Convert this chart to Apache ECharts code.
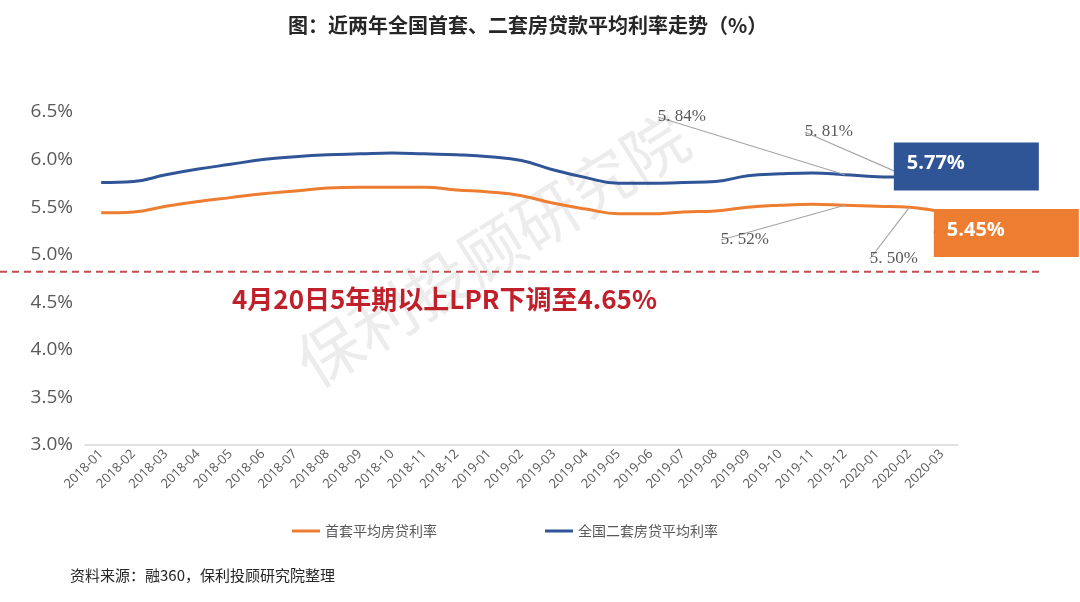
<!DOCTYPE html>
<html>
<head>
<meta charset="utf-8">
<script src="https://cdn.jsdelivr.net/npm/echarts@6/dist/echarts.min.js"></script>
<style>
  html, body { margin: 0; padding: 0; background: #fff; }
  #main { width: 1080px; height: 602px; }
</style>
</head>
<body>
<div id="main"></div>
<script>
// months on the x axis
const months = [
  "2018-01", "2018-02", "2018-03", "2018-04", "2018-05", "2018-06", "2018-07",
  "2018-08", "2018-09", "2018-10", "2018-11", "2018-12", "2019-01", "2019-02",
  "2019-03", "2019-04", "2019-05", "2019-06", "2019-07", "2019-08", "2019-09",
  "2019-10", "2019-11", "2019-12", "2020-01", "2020-02", "2020-03"
];
// 首套平均房贷利率 (%)
const firstRate = [
  5.44, 5.45, 5.51, 5.56, 5.60, 5.64, 5.67, 5.70, 5.71, 5.71, 5.71, 5.68, 5.66, 5.62,
  5.54, 5.48, 5.43, 5.43, 5.45, 5.46, 5.50, 5.52, 5.53, 5.52, 5.51, 5.50, 5.45
];
// 全国二套房贷平均利率 (%)
const secondRate = [
  5.76, 5.77, 5.84, 5.90, 5.95, 6.00, 6.03, 6.05, 6.06, 6.07, 6.06, 6.05, 6.03, 5.99,
  5.89, 5.81, 5.75, 5.75, 5.76, 5.77, 5.83, 5.85, 5.86, 5.84, 5.82, 5.81, 5.77
];
const yTicks = [3.0, 3.5, 4.0, 4.5, 5.0, 5.5, 6.0, 6.5];
// points that carry a small callout label
const firstCallouts = ["2019-12", "2020-02"];
const secondCallouts = ["2019-12", "2020-02"];
const dashLevel = 4.82;
const lprNote = "4月20日5年期以上LPR下调至4.65%";

const BLUE = "#2f5597";
const ORANGE = "#ed7d31";

// where the callout texts sit (layout only)
const calloutPos = {
  "1-23": { x: 706, y: 117 },
  "1-25": { x: 853, y: 132 },
  "0-23": { x: 769, y: 240 },
  "0-25": { x: 918, y: 259 }
};

function boxLabel(color, pos) {
  return {
    show: true,
    position: pos,
    formatter: (p) => p.value.toFixed(2) + "%",
    color: "#fff",
    fontWeight: "bold",
    fontSize: 20,
    fontFamily: "Open Sans, Noto Sans CJK SC",
    backgroundColor: color,
    padding: [6, 0, 12, 13],
    width: 132,
    height: 30,
    lineHeight: 30
  };
}

function buildData(values, callouts, color, boxPos) {
  return values.map((v, i) => {
    const last = i === values.length - 1;
    if (last) {
      return { value: v, label: boxLabel(color, boxPos) };
    }
    if (callouts.indexOf(months[i]) >= 0) {
      return { value: v, label: { show: true } };
    }
    return v;
  });
}

const myChart = echarts.init(document.getElementById("main"));

const calloutLabel = {
  show: false,
  formatter: (p) => p.value.toFixed(2).replace(".", ". ") + "%",
  fontFamily: "Liberation Serif, DejaVu Serif, serif",
  fontSize: 17,
  color: "#595959"
};

myChart.setOption({
  animation: false,
  title: {
    text: "图：近两年全国首套、二套房贷款平均利率走势（%）",
    left: 283,
    top: 10,
    textStyle: {
      fontSize: 20,
      fontWeight: "bold",
      color: "#262626",
      fontFamily: "Noto Sans CJK SC"
    }
  },
  legend: {
    data: ["首套平均房贷利率", "全国二套房贷平均利率"],
    left: 287,
    top: 519,
    icon: "rect",
    itemWidth: 28,
    itemHeight: 3,
    itemGap: 108,
    textStyle: {
      fontSize: 14,
      color: "#595959",
      fontFamily: "Noto Sans CJK SC"
    }
  },
  grid: {
    left: 85,
    right: 122,
    top: 112,
    bottom: 157,
    outerBoundsMode: "none"
  },
  xAxis: {
    type: "category",
    data: months,
    boundaryGap: true,
    axisLine: { lineStyle: { color: "#d9d9d9", width: 1.5 } },
    axisTick: { show: false },
    axisLabel: {
      interval: 0,
      rotate: 45,
      margin: 7,
      fontSize: 13,
      color: "#595959",
      fontFamily: "Open Sans, Noto Sans CJK SC"
    }
  },
  yAxis: {
    type: "value",
    min: yTicks[0],
    max: yTicks[yTicks.length - 1],
    interval: 0.5,
    splitLine: { show: false },
    axisLine: { show: false },
    axisTick: { show: false },
    axisLabel: {
      margin: 12,
      fontSize: 19,
      color: "#595959",
      fontFamily: "Open Sans, Noto Sans CJK SC",
      formatter: (v) => v.toFixed(1) + "%"
    }
  },
  series: [
    {
      name: "首套平均房贷利率",
      type: "line",
      smooth: 0.45,
      showSymbol: true,
      showAllSymbol: true,
      symbolSize: 0,
      lineStyle: { color: ORANGE, width: 3 },
      itemStyle: { color: ORANGE },
      label: calloutLabel,
      labelLine: { show: true, lineStyle: { color: "#a6a6a6", width: 1.2 } },
      labelLayout: layoutCallout,
      data: buildData(firstRate, firstCallouts, ORANGE, [-8, -3]),
      z: 3
    },
    {
      name: "全国二套房贷平均利率",
      type: "line",
      smooth: 0.45,
      showSymbol: true,
      showAllSymbol: true,
      symbolSize: 0,
      lineStyle: { color: BLUE, width: 3 },
      itemStyle: { color: BLUE },
      label: calloutLabel,
      labelLine: { show: true, lineStyle: { color: "#a6a6a6", width: 1.2 } },
      labelLayout: layoutCallout,
      data: buildData(secondRate, secondCallouts, BLUE, [-48, -39]),
      z: 3
    }
  ]
});

function layoutCallout(p) {
  const pos = calloutPos[p.seriesIndex + "-" + p.dataIndex];
  if (!pos) return {};
  return { x: pos.x, y: pos.y, align: "right", verticalAlign: "middle" };
}

// dashed separator and annotation texts
const dashY = myChart.convertToPixel({ yAxisIndex: 0 }, dashLevel);
myChart.setOption({
  graphic: [
    {
      type: "text",
      id: "watermark",
      x: 492,
      y: 250,
      rotation: Math.PI / 5.6,
      z: 0,
      silent: true,
      style: {
        text: "保利投顾研究院",
        fontSize: 64,
        fontFamily: "Noto Sans CJK SC",
        fill: "rgba(170,170,170,0.22)",
        align: "center",
        verticalAlign: "middle"
      }
    },
    {
      type: "line",
      id: "dash",
      z: 1,
      shape: { x1: 0, y1: dashY, x2: 1040, y2: dashY },
      style: { stroke: "#c0504d", lineWidth: 2, lineDash: [7, 5] }
    },
    {
      type: "text",
      id: "lpr",
      left: 232,
      top: dashY + 14,
      z: 5,
      style: {
        text: lprNote,
        fontSize: 26,
        fontWeight: "bold",
        fontFamily: "Noto Sans CJK SC",
        fill: "#c0202a"
      }
    },
    {
      type: "text",
      id: "source",
      left: 70,
      top: 568,
      style: {
        text: "资料来源：融360，保利投顾研究院整理",
        fontSize: 15,
        fontFamily: "Noto Sans CJK SC",
        fill: "#262626"
      }
    }
  ]
});
</script>
</body>
</html>
